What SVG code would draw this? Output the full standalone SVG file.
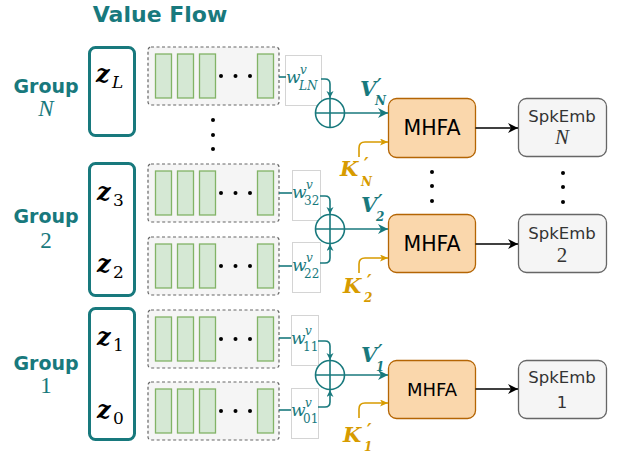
<svg xmlns="http://www.w3.org/2000/svg" xmlns:xlink="http://www.w3.org/1999/xlink" width="617" height="455" viewBox="0 0 617 455">
  <style>
    .title { font-family: "DejaVu Sans", sans-serif; font-weight: bold; font-size: 22px; fill: #18797d; }
    .grp { font-family: "DejaVu Sans", sans-serif; font-weight: bold; font-size: 19px; fill: #18797d; text-anchor: middle; }
    .grpn { font-family: "Liberation Serif", serif; font-size: 23px; fill: #18797d; text-anchor: middle; }
    .it { font-style: italic; }
    .zbox { fill: #ffffff; stroke: #18797d; stroke-width: 3; }
    .zt { font-family: "DejaVu Serif", serif; font-style: italic; font-weight: bold; font-size: 24px; fill: #000; }
    .zs { font-family: "DejaVu Serif", serif; font-size: 17px; fill: #000; }
    .seqbox { fill: #f5f5f5; stroke: #666666; stroke-width: 1.2; stroke-dasharray: 3 2.5; }
    .frame { fill: #d5e8d4; stroke: #82b366; stroke-width: 1.3; }
    .dot { fill: #000; }
    .wbox { fill: #ffffff; stroke: #d4d4d4; stroke-width: 1; }
    .wt { font-family: "DejaVu Serif", serif; fill: #18797d; }
    .teal { fill: none; stroke: #18797d; stroke-width: 1.6; }
    .gold { fill: none; stroke: #d79b00; stroke-width: 1.6; }
    .blk { fill: none; stroke: #000; stroke-width: 1.6; }
    .sum { fill: #ffffff; stroke: #18797d; stroke-width: 1.6; }
    .mhfa { fill: #fad7ac; stroke: #b46504; stroke-width: 1.3; }
    .mt { font-family: "DejaVu Sans", sans-serif; fill: #000; text-anchor: middle; }
    .emb { fill: #f5f5f5; stroke: #666666; stroke-width: 1.3; }
    .et { font-family: "DejaVu Sans", sans-serif; font-size: 16.5px; fill: #333333; text-anchor: middle; }
    .en { font-family: "Liberation Serif", serif; font-size: 21px; fill: #333333; text-anchor: middle; }
    .vl { font-family: "DejaVu Serif", serif; font-style: italic; font-weight: bold; fill: #18797d; }
    .kl { font-family: "DejaVu Serif", serif; font-style: italic; font-weight: bold; fill: #d79b00; }
    .pr { font-family: "DejaVu Sans", sans-serif; font-weight: bold; font-size: 17px; }
  </style>
  <defs>
    <marker id="aTeal" markerUnits="userSpaceOnUse" markerWidth="12" markerHeight="12" refX="10" refY="5" orient="auto">
      <path d="M0,0 L10,5 L0,10 L3,5 Z" fill="#18797d"/>
    </marker>
    <marker id="aTealS" markerUnits="userSpaceOnUse" markerWidth="10" markerHeight="10" refX="7" refY="3.5" orient="auto">
      <path d="M0,0 L7,3.5 L0,7 L2,3.5 Z" fill="#18797d"/>
    </marker>
    <marker id="aGold" markerUnits="userSpaceOnUse" markerWidth="10" markerHeight="10" refX="8" refY="3.5" orient="auto">
      <path d="M0,0 L8,3.5 L0,7 L2,3.5 Z" fill="#d79b00"/>
    </marker>
    <marker id="aBlk" markerUnits="userSpaceOnUse" markerWidth="12" markerHeight="12" refX="10" refY="5" orient="auto">
      <path d="M0,0 L10,5 L0,10 L3,5 Z" fill="#000"/>
    </marker>
    <!-- one sequence of frames: dashed container, green frames, ellipsis -->
    <g id="seq">
      <rect class="seqbox" x="148" y="0" width="131" height="58" rx="3"/>
      <rect class="frame" x="155.5" y="7" width="16" height="44"/>
      <rect class="frame" x="177.5" y="7" width="16" height="44"/>
      <rect class="frame" x="199.5" y="7" width="16" height="44"/>
      <rect class="frame" x="257.5" y="7" width="16" height="44"/>
      <circle class="dot" cx="221" cy="29" r="2"/>
      <circle class="dot" cx="235.5" cy="29" r="2"/>
      <circle class="dot" cx="250" cy="29" r="2"/>
    </g>
  </defs>

  <rect width="617" height="455" fill="#ffffff"/>

  <text class="title" x="160" y="22" text-anchor="middle">Value Flow</text>

  <!-- group labels -->
  <g id="group-N-label">
    <text class="grp" x="46" y="93">Group</text>
    <text class="grpn it" x="46" y="116">N</text>
  </g>
  <g id="group-2-label">
    <text class="grp" x="46" y="223">Group</text>
    <text class="grpn" x="46" y="248">2</text>
  </g>
  <g id="group-1-label">
    <text class="grp" x="46" y="370">Group</text>
    <text class="grpn" x="46" y="393">1</text>
  </g>

  <!-- latent groups -->
  <g id="z-group-N">
    <rect class="zbox" x="89.5" y="47.5" width="45" height="88" rx="6"/>
    <text class="zt" x="96" y="82">z</text>
    <text class="zs it" x="112" y="88">L</text>
  </g>
  <g id="z-group-2">
    <rect class="zbox" x="89.5" y="163.5" width="45" height="132" rx="6"/>
    <text class="zt" x="97" y="200">z</text>
    <text class="zs" x="113" y="206">3</text>
    <text class="zt" x="97" y="272">z</text>
    <text class="zs" x="113" y="278">2</text>
  </g>
  <g id="z-group-1">
    <rect class="zbox" x="89.5" y="308.5" width="45" height="131" rx="6"/>
    <text class="zt" x="97" y="345">z</text>
    <text class="zs" x="113" y="351">1</text>
    <text class="zt" x="97" y="418">z</text>
    <text class="zs" x="113" y="424">0</text>
  </g>

  <!-- frame sequences -->
  <g id="seq-L"><use xlink:href="#seq" href="#seq" y="47"/></g>
  <g id="seq-3"><use xlink:href="#seq" href="#seq" y="164"/></g>
  <g id="seq-2"><use xlink:href="#seq" href="#seq" y="237"/></g>
  <g id="seq-1"><use xlink:href="#seq" href="#seq" y="310"/></g>
  <g id="seq-0"><use xlink:href="#seq" href="#seq" y="382"/></g>

  <g id="vdots-seq">
    <circle class="dot" cx="213" cy="120" r="2"/>
    <circle class="dot" cx="213" cy="135" r="2"/>
    <circle class="dot" cx="213" cy="149" r="2"/>
  </g>

  <!-- layer weights -->
  <g id="w-LN">
    <rect class="wbox" x="285.5" y="55.5" width="36" height="50"/>
    <text class="wt it" x="286" y="83" font-size="17">w</text>
    <text class="wt it" x="300" y="74" font-size="12">v</text>
    <text class="wt it" x="299" y="90" font-size="12">LN</text>
  </g>
  <g id="w-32">
    <rect class="wbox" x="292.5" y="170.5" width="28" height="50"/>
    <text class="wt it" x="292" y="198" font-size="17">w</text>
    <text class="wt it" x="306" y="189" font-size="12">v</text>
    <text class="wt" x="304" y="205" font-size="12">32</text>
  </g>
  <g id="w-22">
    <rect class="wbox" x="292.5" y="242.5" width="28" height="50"/>
    <text class="wt it" x="292" y="271" font-size="17">w</text>
    <text class="wt it" x="306" y="262" font-size="12">v</text>
    <text class="wt" x="304" y="278" font-size="12">22</text>
  </g>
  <g id="w-11">
    <rect class="wbox" x="291.5" y="315.5" width="27" height="50"/>
    <text class="wt it" x="291" y="344" font-size="17">w</text>
    <text class="wt it" x="305" y="335" font-size="12">v</text>
    <text class="wt" x="303" y="351" font-size="12">11</text>
  </g>
  <g id="w-01">
    <rect class="wbox" x="291.5" y="388.5" width="27" height="50"/>
    <text class="wt it" x="291" y="416" font-size="17">w</text>
    <text class="wt it" x="305" y="407" font-size="12">v</text>
    <text class="wt" x="303" y="423" font-size="12">01</text>
  </g>

  <!-- summation nodes -->
  <g id="sum-N">
    <circle class="sum" cx="330" cy="113" r="14.5"/>
    <path class="teal" d="M315.5 113 H344.5 M330 98.5 V127.5"/>
  </g>
  <g id="sum-2">
    <circle class="sum" cx="330" cy="229" r="14.5"/>
    <path class="teal" d="M315.5 229 H344.5 M330 214.5 V243.5"/>
  </g>
  <g id="sum-1">
    <circle class="sum" cx="330" cy="375" r="14.5"/>
    <path class="teal" d="M315.5 375 H344.5 M330 360.5 V389.5"/>
  </g>

  <!-- MHFA blocks -->
  <g id="mhfa-N">
    <rect class="mhfa" x="388.5" y="98.5" width="87" height="59" rx="8"/>
    <text class="mt" x="432" y="135" font-size="20.5">MHFA</text>
  </g>
  <g id="mhfa-2">
    <rect class="mhfa" x="388.5" y="214.5" width="87" height="58" rx="8"/>
    <text class="mt" x="432" y="251" font-size="20.5">MHFA</text>
  </g>
  <g id="mhfa-1">
    <rect class="mhfa" x="388.5" y="360.5" width="87" height="58" rx="8"/>
    <text class="mt" x="432" y="396" font-size="18">MHFA</text>
  </g>

  <!-- speaker embeddings -->
  <g id="emb-N">
    <rect class="emb" x="518.5" y="98.5" width="88" height="58" rx="8"/>
    <text class="et" x="562" y="122">SpkEmb</text>
    <text class="en it" x="562" y="144">N</text>
  </g>
  <g id="emb-2">
    <rect class="emb" x="518.5" y="214.5" width="88" height="58" rx="8"/>
    <text class="et" x="562" y="239">SpkEmb</text>
    <text class="en" x="562" y="262">2</text>
  </g>
  <g id="emb-1">
    <rect class="emb" x="518.5" y="360.5" width="88" height="58" rx="8"/>
    <text class="et" x="562" y="383">SpkEmb</text>
    <text class="et" x="562" y="408">1</text>
  </g>

  <g id="vdots-blocks">
    <circle class="dot" cx="432" cy="172" r="2"/>
    <circle class="dot" cx="432" cy="186" r="2"/>
    <circle class="dot" cx="432" cy="201" r="2"/>
    <circle class="dot" cx="563" cy="173" r="2"/>
    <circle class="dot" cx="563" cy="187" r="2"/>
    <circle class="dot" cx="563" cy="202" r="2"/>
  </g>

  <!-- connectors -->
  <g id="connectors">
    <!-- frame sequences to weights -->
    <path class="teal" d="M279 77 H286"/>
    <path class="teal" d="M279 193 H292"/>
    <path class="teal" d="M279 266 H292"/>
    <path class="teal" d="M279 338 H291"/>
    <path class="teal" d="M279 410 H291"/>
    <!-- weights into summation -->
    <path class="teal" d="M321 79 H325 Q330 79 330 84 V98" marker-end="url(#aTealS)"/>
    <path class="teal" d="M320 196 H325 Q330 196 330 201 V214" marker-end="url(#aTealS)"/>
    <path class="teal" d="M320 263 H325 Q330 263 330 258 V244" marker-end="url(#aTealS)"/>
    <path class="teal" d="M318 341 H325 Q330 341 330 346 V360" marker-end="url(#aTealS)"/>
    <path class="teal" d="M318 407 H325 Q330 407 330 402 V390" marker-end="url(#aTealS)"/>
    <!-- summation to MHFA (values) -->
    <path class="teal" d="M344.5 113 H388" marker-end="url(#aTeal)"/>
    <path class="teal" d="M344.5 229 H388" marker-end="url(#aTeal)"/>
    <path class="teal" d="M344.5 375 H388" marker-end="url(#aTeal)"/>
    <!-- keys -->
    <path class="gold" d="M359 157 V148 Q359 142 365 142 H388" marker-end="url(#aGold)"/>
    <path class="gold" d="M359 273 V264 Q359 258 365 258 H388" marker-end="url(#aGold)"/>
    <path class="gold" d="M359 418 V409 Q359 403 365 403 H388" marker-end="url(#aGold)"/>
    <!-- MHFA to embedding -->
    <path class="blk" d="M475.5 128 H518" marker-end="url(#aBlk)"/>
    <path class="blk" d="M475.5 244 H518" marker-end="url(#aBlk)"/>
    <path class="blk" d="M475.5 389 H518" marker-end="url(#aBlk)"/>
  </g>

  <!-- value / key labels -->
  <g id="labels">
    <text class="vl" x="360" y="96" font-size="21">V</text>
    <text class="vl pr" x="377" y="91">′</text>
    <text class="vl" x="375" y="105" font-size="12">N</text>

    <text class="vl" x="361" y="212" font-size="21">V</text>
    <text class="vl pr" x="378" y="207">′</text>
    <text class="vl" x="376" y="221" font-size="12">2</text>

    <text class="vl" x="361" y="362" font-size="21">V</text>
    <text class="vl pr" x="378" y="357">′</text>
    <text class="vl" x="376" y="371" font-size="12">1</text>

    <text class="kl" x="340" y="176" font-size="21">K</text>
    <text class="kl pr" x="364" y="170">′</text>
    <text class="kl" x="361" y="186" font-size="12">N</text>

    <text class="kl" x="343" y="293" font-size="21">K</text>
    <text class="kl pr" x="367" y="287">′</text>
    <text class="kl" x="364" y="302" font-size="12">2</text>

    <text class="kl" x="343" y="442" font-size="21">K</text>
    <text class="kl pr" x="367" y="436">′</text>
    <text class="kl" x="364" y="451" font-size="12">1</text>
  </g>
</svg>
